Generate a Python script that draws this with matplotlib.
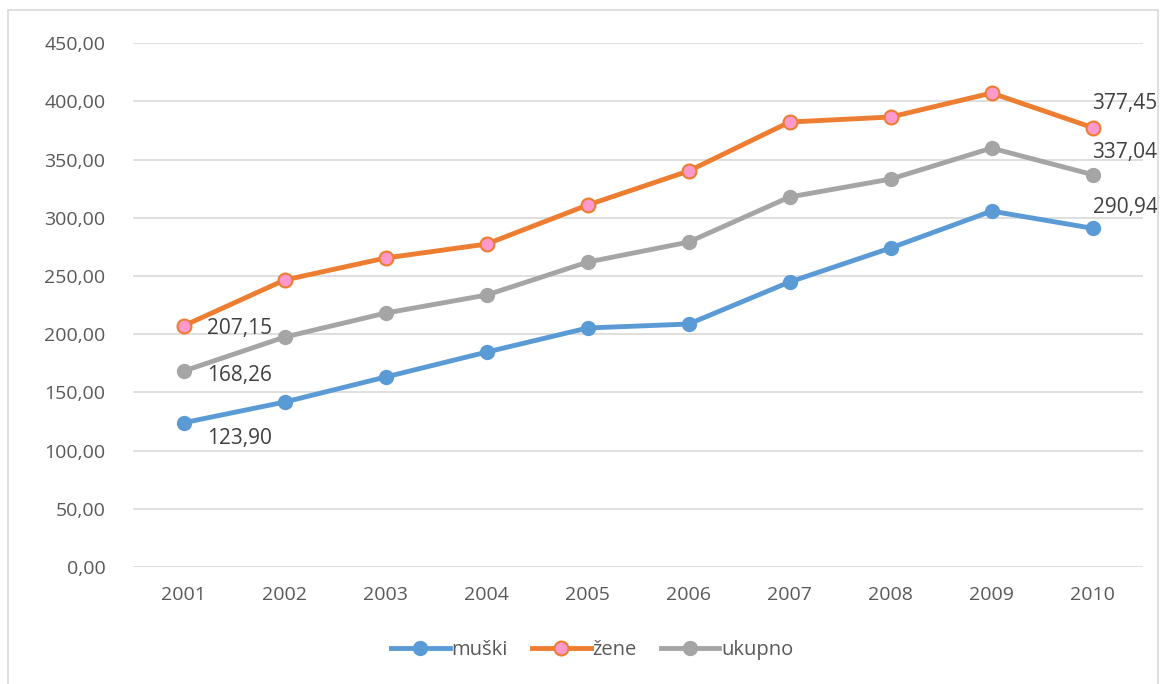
import matplotlib.pyplot as plt
from matplotlib.patches import Rectangle

years = ["2001", "2002", "2003", "2004", "2005", "2006", "2007", "2008", "2009", "2010"]
muski = [123.90, 141.7, 163.2, 184.6, 205.3, 208.7, 244.8, 274.0, 305.7, 290.94]
zene = [207.15, 246.5, 265.4, 277.4, 310.9, 340.1, 382.2, 386.5, 407.1, 377.45]
ukupno = [168.26, 197.5, 218.1, 233.6, 261.9, 279.1, 317.8, 333.2, 359.8, 337.04]


def fmt(v):
    return "{:.2f}".format(v).replace(".", ",")


plt.rcParams["font.family"] = ["Open Sans", "DejaVu Sans"]

fig = plt.figure(figsize=(11.64, 6.84), dpi=100)
ax = fig.add_axes([0.1143, 0.171, 0.8677, 0.766])

x = list(range(len(years)))
ax.plot(x, muski, color="#5b9bd5", lw=3.5, marker="o", ms=10,
        mfc="#5b9bd5", mec="#5b9bd5", label="muški", zorder=3)
ax.plot(x, zene, color="#ed7d31", lw=3.5, marker="o", ms=10,
        mfc="#ff99cc", mec="#ed7d31", mew=1.5, label="žene", zorder=3)
ax.plot(x, ukupno, color="#a5a5a5", lw=3.5, marker="o", ms=10,
        mfc="#a5a5a5", mec="#a5a5a5", label="ukupno", zorder=3)

# data labels on first and last points
lab = dict(fontsize=15, color="#404040")
ax.annotate(fmt(zene[0]), (x[0], zene[0]), xytext=(17, -2), textcoords="offset points", va="center", **lab)
ax.annotate(fmt(ukupno[0]), (x[0], ukupno[0]), xytext=(17, -3), textcoords="offset points", va="center", **lab)
ax.annotate(fmt(muski[0]), (x[0], muski[0]), xytext=(17, -11), textcoords="offset points", va="center", **lab)
ax.annotate(fmt(zene[-1]), (x[-1], zene[-1]), xytext=(0, 17), textcoords="offset points", va="center", **lab)
ax.annotate(fmt(ukupno[-1]), (x[-1], ukupno[-1]), xytext=(0, 16), textcoords="offset points", va="center", **lab)
ax.annotate(fmt(muski[-1]), (x[-1], muski[-1]), xytext=(0, 15), textcoords="offset points", va="center", **lab)

ax.set_xlim(-0.5, len(years) - 0.5)
ax.set_ylim(0, 450)
ax.set_yticks(range(0, 451, 50))
ax.set_yticklabels([fmt(v) for v in range(0, 451, 50)])
ax.set_xticks(x)
ax.set_xticklabels(years)
ax.tick_params(length=0, labelsize=14, colors="#595959", pad=14)
ax.tick_params(axis="y", pad=20)
ax.grid(axis="y", color="#d9d9d9", lw=1.2)
ax.set_axisbelow(True)
for s in ax.spines.values():
    s.set_visible(False)

h, l = ax.get_legend_handles_labels()
fig.legend(h, l, loc="center", bbox_to_anchor=(0.509, 0.050), ncol=3, frameon=False,
           fontsize=14.5, handlelength=2.9, columnspacing=1.2, handletextpad=0.1,
           labelcolor="#595959")

fig.patches.append(Rectangle((8 / 1164, -0.01), 1150 / 1164, 1 - 10 / 684 + 0.01,
                             transform=fig.transFigure, fill=False, ec="#d9d9d9", lw=1.2))

fig.savefig("out.png", dpi=100)
